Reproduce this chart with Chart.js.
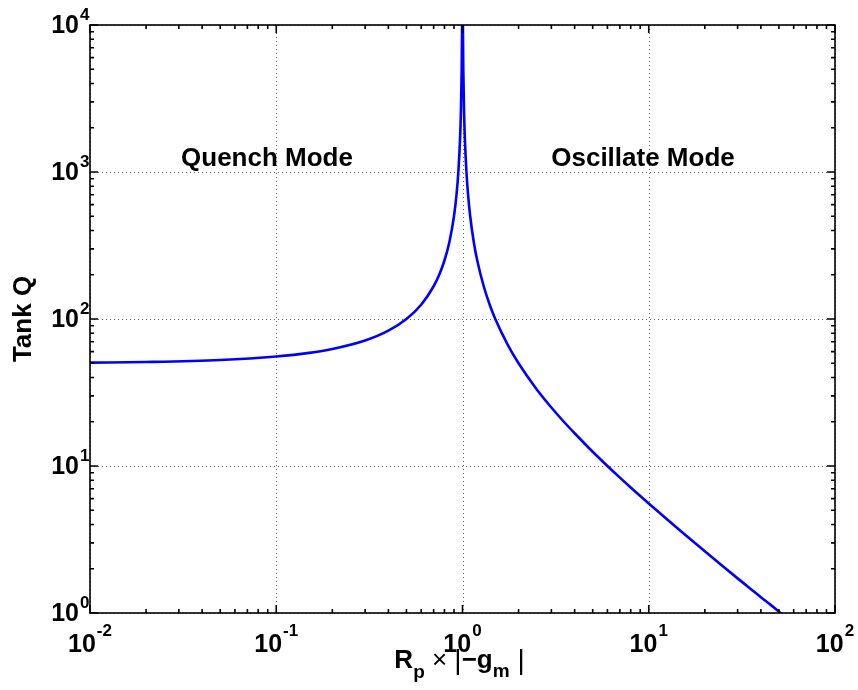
<!DOCTYPE html>
<html>
<head>
<meta charset="utf-8">
<script src="https://cdn.jsdelivr.net/npm/chart.js@4"></script>
<style>
  html, body { margin: 0; padding: 0; background: #fff; }
  #wrap { width: 858px; height: 690px; }
</style>
</head>
<body>
<div id="wrap"><canvas id="chart" width="858" height="690"></canvas></div>
<script>
// axis decades and labels
const xDecades = [0.01, 0.1, 1, 10, 100];
const xExponents = ['-2', '-1', '0', '1', '2'];
const yDecades = [1, 10, 100, 1000, 10000];
const yExponents = ['0', '1', '2', '3', '4'];
const minorSteps = [2, 3, 4, 5, 6, 7, 8, 9];

// curve: Rp*|-gm| vs tank Q
const rpGm = [0.01, 0.02, 0.05, 0.1, 0.15, 0.2, 0.3, 0.4, 0.5, 0.6, 0.7, 0.75, 0.8, 0.85, 0.9, 0.93, 0.95, 0.97, 0.98, 0.99, 0.995, 0.997,
              1.003, 1.005, 1.01, 1.02, 1.03, 1.05, 1.07, 1.1, 1.15, 1.2, 1.3, 1.4, 1.5, 1.75, 2, 2.5, 3, 3.5, 4, 5, 6, 7, 8, 10, 12, 15, 20, 25, 30, 35, 40, 45, 50, 60];
const tankQ = [50.5, 51, 52.6, 55.6, 58.8, 62.5, 71.4, 83.3, 100, 125, 167, 200, 250, 333, 500, 714, 1000, 1667, 2500, 5000, 10000, 16700,
               16700, 10000, 5000, 2500, 1667, 1000, 714, 500, 333, 250, 167, 125, 100, 66.7, 50, 33.3, 25, 20, 16.7, 12.5, 10, 8.33, 7.14, 5.56, 4.55, 3.57, 2.63, 2.08, 1.72, 1.47, 1.28, 1.14, 1.02, 0.85];

const modeLabels = ['Quench Mode', 'Oscillate Mode'];

const FONT = '"Liberation Sans", Arial, Helvetica, sans-serif';

// MATLAB-like box, dotted grid, inward ticks and 10^n labels
const axesPlugin = {
    id: 'matlabAxes',
    beforeDatasetsDraw(chart) {
        const { ctx, chartArea: a, scales } = chart;
        ctx.save();
        ctx.strokeStyle = 'rgba(0,0,0,0.6)';
        ctx.lineWidth = 1;
        ctx.setLineDash([1, 3]);
        xDecades.forEach(v => {
            const px = Math.round(scales.x.getPixelForValue(v)) + 0.5;
            ctx.beginPath(); ctx.moveTo(px, a.top); ctx.lineTo(px, a.bottom); ctx.stroke();
        });
        yDecades.forEach(v => {
            const py = Math.round(scales.y.getPixelForValue(v)) + 0.5;
            ctx.beginPath(); ctx.moveTo(a.left, py); ctx.lineTo(a.right, py); ctx.stroke();
        });
        ctx.restore();
    },
    afterDatasetsDraw(chart) {
        const { ctx, chartArea: a, scales } = chart;
        ctx.save();
        ctx.strokeStyle = '#000';
        ctx.lineWidth = 1.6;
        ctx.setLineDash([]);

        // ticks
        const tick = (px, len, horiz) => {
            ctx.beginPath();
            if (horiz) {
                ctx.moveTo(px, a.bottom); ctx.lineTo(px, a.bottom - len);
                ctx.moveTo(px, a.top); ctx.lineTo(px, a.top + len);
            } else {
                ctx.moveTo(a.left, px); ctx.lineTo(a.left + len, px);
                ctx.moveTo(a.right, px); ctx.lineTo(a.right - len, px);
            }
            ctx.stroke();
        };
        xDecades.forEach((d, i) => {
            tick(scales.x.getPixelForValue(d), 8, true);
            if (i < xDecades.length - 1) minorSteps.forEach(m => tick(scales.x.getPixelForValue(d * m), 4, true));
        });
        yDecades.forEach((d, i) => {
            tick(scales.y.getPixelForValue(d), 8, false);
            if (i < yDecades.length - 1) minorSteps.forEach(m => tick(scales.y.getPixelForValue(d * m), 4, false));
        });

        // box
        ctx.strokeRect(a.left, a.top, a.right - a.left, a.bottom - a.top);

        ctx.fillStyle = '#000';
        // y tick labels
        yDecades.forEach((d, i) => {
            const py = scales.y.getPixelForValue(d);
            ctx.font = 'bold 25px ' + FONT;
            ctx.textAlign = 'right';
            ctx.textBaseline = 'middle';
            ctx.fillText('10', a.left - 11, py + 1);
            ctx.font = 'bold 17px ' + FONT;
            ctx.textAlign = 'left';
            ctx.textBaseline = 'alphabetic';
            ctx.fillText(yExponents[i], a.left - 10, py - 5);
        });
        // x tick labels
        xDecades.forEach((d, i) => {
            const px = scales.x.getPixelForValue(d);
            ctx.font = 'bold 25px ' + FONT;
            const w10 = ctx.measureText('10').width;
            ctx.font = 'bold 17px ' + FONT;
            const wExp = ctx.measureText(xExponents[i]).width;
            const x0 = px - (w10 + wExp + 1) / 2;
            ctx.textAlign = 'left';
            ctx.textBaseline = 'alphabetic';
            ctx.font = 'bold 25px ' + FONT;
            ctx.fillText('10', x0, a.bottom + 39);
            ctx.font = 'bold 17px ' + FONT;
            ctx.fillText(xExponents[i], x0 + w10 + 1, a.bottom + 23);
        });

        // x axis title: Rp x |-gm|
        const parts = [
            { t: 'R', f: 'bold 26px ', dy: 0 },
            { t: 'p', f: 'bold 19px ', dy: 10 },
            { t: ' \u00d7 ', f: '26px ', dy: 0 },
            { t: '|', f: '28px ', dy: 1 },
            { t: '\u2212g', f: 'bold 26px ', dy: 0 },
            { t: 'm', f: 'bold 19px ', dy: 9 },
            { t: ' |', f: '28px ', dy: 1 }
        ];
        let total = 0;
        parts.forEach(p => { ctx.font = p.f + FONT; p.w = ctx.measureText(p.t).width; total += p.w; });
        let cx = (a.left + a.right) / 2 - 3 - total / 2;
        const base = a.bottom + 55;
        parts.forEach(p => {
            ctx.font = p.f + FONT;
            ctx.fillText(p.t, cx, base + p.dy);
            cx += p.w;
        });

        // y axis title
        ctx.save();
        ctx.translate(24, (a.top + a.bottom) / 2);
        ctx.rotate(-Math.PI / 2);
        ctx.font = 'bold 26px ' + FONT;
        ctx.textAlign = 'center';
        ctx.textBaseline = 'middle';
        ctx.fillText('Tank Q', 0, 0);
        ctx.restore();

        // mode annotations
        ctx.font = 'bold 26px ' + FONT;
        ctx.textAlign = 'center';
        ctx.textBaseline = 'alphabetic';
        ctx.fillText(modeLabels[0], 267, 166);
        ctx.fillText(modeLabels[1], 643, 166);
        ctx.restore();
    }
};

new Chart(document.getElementById('chart'), {
    type: 'line',
    data: {
        datasets: [{
            data: rpGm.map((x, i) => ({ x: x, y: tankQ[i] })),
            borderColor: '#0000ff',
            borderWidth: 2.6,
            pointRadius: 0,
            cubicInterpolationMode: 'monotone',
            clip: 0
        }]
    },
    options: {
        responsive: false,
        devicePixelRatio: 1,
        animation: false,
        layout: { padding: { left: 90, top: 25, right: 23, bottom: 77 } },
        plugins: { legend: { display: false }, tooltip: { enabled: false } },
        scales: {
            x: { type: 'logarithmic', min: 0.01, max: 100, display: false },
            y: { type: 'logarithmic', min: 1, max: 10000, display: false }
        }
    },
    plugins: [axesPlugin]
});
</script>
</body>
</html>
